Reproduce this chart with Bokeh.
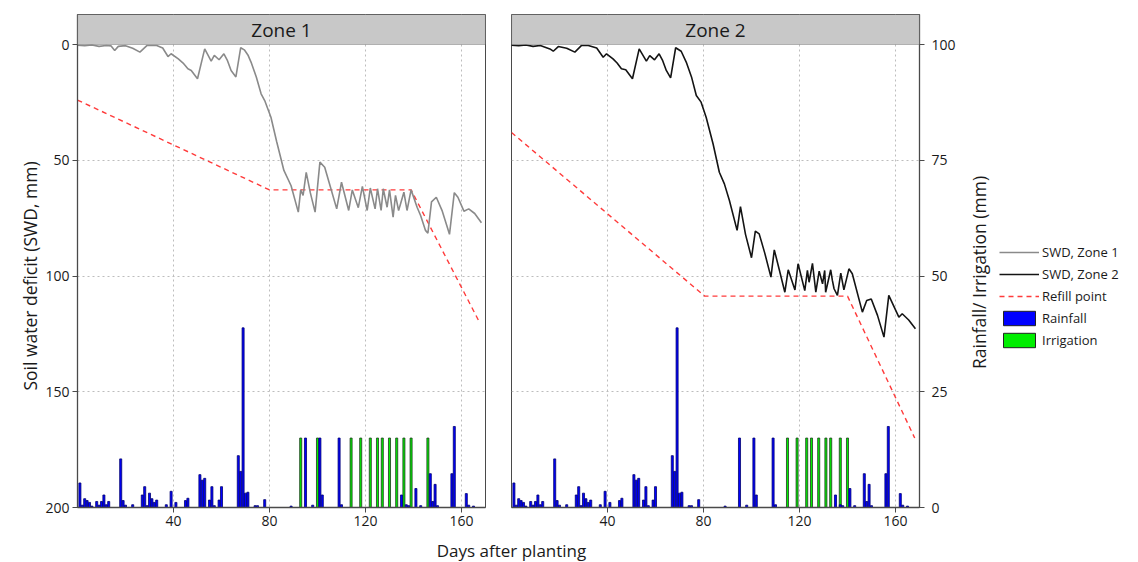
import math
from bokeh.plotting import figure
from bokeh.models import Range1d, LinearAxis, FixedTicker, BoxAnnotation, Label, Legend, LegendItem
from bokeh.layouts import column, row
from bokeh.embed import file_html
from bokeh.resources import INLINE

FONT = "Open Sans"

# ---------------- data ----------------
swd1_day = [0, 3, 6, 9, 12, 14, 15.5, 17, 20, 23, 26, 29, 33, 35.5, 37.7, 39, 42, 44, 46, 47.4,
            50, 53, 55.7, 57, 59, 61, 62.5, 64, 66, 68, 69.5, 71, 72.3, 74.5, 76.5, 78, 80.6, 83,
            86, 89, 92, 93, 94, 95.3, 97, 99, 101, 103, 105.5, 108, 110, 113, 114.5, 117, 118.7,
            120.7, 122, 124, 125, 126.5, 127.4, 129, 130, 131.5, 132.5, 133.8, 136, 137.3, 139,
            141.5, 143, 145, 146, 147.5, 149.5, 152, 155, 157, 158.5, 161, 163, 165.5, 168.3]
swd1_mm = [0.3, 0.5, 0.2, 0.8, 0.4, 0.6, 2.6, 0.8, 0.5, 1.6, 3.3, 0.4, 0.4, 1.5, 5.2, 4.0, 6.2, 8.0,
           10.5, 11.2, 14.8, 1.9, 7.2, 4.7, 6.6, 4.0, 7.0, 11.2, 14.0, 1.4, 2.3, 4.5, 7.6, 14.0,
           21.3, 24.2, 31.4, 42.0, 54.4, 61.0, 72.4, 62.8, 65.2, 55.2, 64.0, 72.4, 50.8, 53.0,
           62.0, 71.0, 59.5, 71.7, 62.8, 70.5, 61.3, 71.7, 62.0, 71.0, 62.3, 71.7, 62.3, 70.3,
           62.8, 74.6, 65.2, 71.7, 63.8, 71.7, 62.8, 70.3, 74.0, 80.3, 81.5, 68.0, 66.0, 72.0,
           82.0, 64.0, 66.0, 72.0, 71.0, 73.0, 77.0]

swd2_day = [0, 3, 6, 9, 12, 16, 17.4, 19.5, 23, 26.4, 29.2, 32, 35.5, 38.2, 39.6, 42.3, 44, 45.8,
            47.6, 50.4, 53.2, 56.2, 57.6, 59.6, 61.5, 63, 64.5, 66.3, 68.4, 70.7, 72.8, 75, 77, 79,
            81.1, 84, 86.6, 88.7, 90.8, 94, 95.4, 97.5, 100, 101.6, 103.2, 105.5, 108.1, 109.5,
            111.5, 113.9, 115.3, 118.1, 119.4, 122.2, 123.3, 124, 125.4, 126.8, 128.2, 129.6,
            130.5, 130.9, 133, 133.7, 134.4, 135.8, 137.2, 138.5, 140.6, 142, 146.2, 148, 149.9,
            152.5, 155.2, 157.2, 161.4, 162.8, 165.5, 168.3]
swd2_mm = [0.3, 0.5, 0.2, 0.8, 0.4, 1.9, 2.9, 0.9, 1.6, 3.3, 0.4, 0.4, 1.5, 5.5, 4.0, 6.2, 8.0, 10.5,
           10.9, 14.8, 1.9, 7.2, 4.8, 6.6, 4.0, 7.0, 11.2, 14.4, 1.4, 2.9, 7.6, 14.0, 22.0, 24.9,
           31.4, 43.0, 55.2, 60.2, 67.4, 80.3, 70.0, 82.0, 92.1, 80.6, 81.8, 90.0, 100.5, 88.7,
           97.0, 107.0, 97.3, 106.0, 94.7, 106.3, 97.6, 102.7, 94.5, 107.0, 97.9, 103.4, 97.6,
           107.0, 97.3, 101.9, 105.5, 108.4, 98.8, 106.0, 96.9, 99.0, 115.6, 110.6, 109.9, 117.0,
           126.4, 108.4, 117.8, 116.3, 119.0, 122.8]

refill1_day = [0, 80, 139, 167]
refill1_mm = [24.0, 62.8, 62.8, 119.0]
refill2_day = [0, 80.5, 140, 168]
refill2_mm = [38.0, 108.7, 108.7, 170.0]

rain_day = [1, 2, 3, 4, 5, 6, 8, 9, 10, 11, 12, 13, 18, 19, 20, 23, 27, 28, 29, 30, 31, 32, 33,
            37, 39, 41, 45, 46, 51, 52, 53, 55, 56, 57, 59, 60, 67, 68, 69, 70, 71, 74, 75, 78,
            89, 95, 98, 101, 102, 109, 110, 135, 137, 138, 141, 143, 147, 148, 149, 150, 156,
            157, 162, 163, 165]
rain_mm = [5.3, 0.5, 1.9, 1.5, 1.1, 0.3, 1.3, 0.5, 1.3, 2.7, 0.6, 1.3, 10.5, 1.5, 0.5, 0.6, 2.7,
           4.5, 0.4, 3.1, 1.9, 1.1, 1.6, 0.6, 3.5, 1.1, 1.5, 2.0, 7.1, 5.9, 6.3, 1.6, 4.5, 0.4,
           1.6, 4.5, 11.2, 7.8, 38.8, 3.1, 3.3, 0.4, 0.4, 1.7, 0.3, 15.0, 0.5, 15.0, 2.7, 15.0,
           0.6, 2.7, 0.6, 0.4, 4.1, 0.4, 7.3, 1.3, 5.0, 0.4, 7.3, 17.5, 3.0, 0.5, 0.3]

irr1_day = [93, 100, 114, 118, 122, 125, 127, 130, 133, 136, 139, 146]
irr1_mm = [15.0, 15.0, 15.0, 15.0, 15.0, 15.0, 15.0, 15.0, 15.0, 15.0, 15.0, 15.0]
irr2_day = [115, 119, 123, 125, 128, 131, 133, 137, 140]
irr2_mm = [15.0, 15.0, 15.0, 15.0, 15.0, 15.0, 15.0, 15.0, 15.0]

x_ticks = [40, 80, 120, 160]
swd_ticks = [0, 50, 100, 150, 200]
rain_ticks = [0, 25, 50, 75, 100]
panel_titles = ["Zone 1", "Zone 2"]
legend_labels = ["SWD, Zone 1", "SWD, Zone 2", "Refill point", "Rainfall", "Irrigation"]

X_LABEL = "Days after planting"
Y_LABEL = "Soil water deficit (SWD, mm)"
Y2_LABEL = "Rainfall/ Irrigation (mm)"

# ---------------- styling constants ----------------
Z1_COLOR = "#8a8a8a"
Z2_COLOR = "#141414"
REFILL_COLOR = "#ff3b3b"
RAIN_FILL = "#0000ff"
RAIN_LINE = "#000070"
IRR_FILL = "#00ee00"
IRR_LINE = "#1e3a1e"
AXIS_COLOR = "#4a4a4a"
GRID_COLOR = "#bdbdbd"
TEXT_COLOR = "#1a1a1a"

X_MAX = 170
SWD_TOP = -12.96            # header strip area above 0
RAIN_TOP = (200 - SWD_TOP) / 2.0
ROW_H = 537
FRAME_BOTTOM = 507          # frames in the row are aligned (top 14, bottom 507)


def style_axis(ax):
    ax.axis_line_color = AXIS_COLOR
    ax.axis_line_width = 1.3
    ax.major_tick_line_color = AXIS_COLOR
    ax.major_tick_out = 5
    ax.major_tick_in = 0
    ax.minor_tick_line_color = None
    ax.major_label_text_font = FONT
    ax.major_label_text_font_size = "14px"
    ax.major_label_text_color = TEXT_COLOR


def blank_fig(width, height):
    f = figure(width=width, height=height, x_range=Range1d(0, width), y_range=Range1d(0, height),
               toolbar_location=None, output_backend="svg", min_border=0,
               x_axis_location=None, y_axis_location=None, outline_line_color=None)
    f.grid.visible = False
    return f


def vertical_title(text, x, y_from_top):
    return Label(x=x, y=FRAME_BOTTOM - y_from_top, x_units="screen", y_units="screen", text=text,
                 angle=math.pi / 2, text_align="center", text_baseline="middle",
                 text_font=FONT, text_font_size="17.5px", text_color=TEXT_COLOR)


def make_panel(width, border_left, border_right, title, left_axis):
    p = figure(width=width, height=ROW_H, x_range=Range1d(0, X_MAX),
               y_range=Range1d(200, SWD_TOP), toolbar_location=None, output_backend="svg",
               min_border_left=border_left, min_border_right=border_right,
               min_border_top=14, min_border_bottom=30,
               y_axis_location="left" if left_axis else None)
    p.extra_y_ranges = {"rain": Range1d(0, RAIN_TOP)}
    p.outline_line_color = AXIS_COLOR
    p.outline_line_width = 1
    p.background_fill_color = "white"
    p.border_fill_color = "white"

    p.xaxis.ticker = FixedTicker(ticks=x_ticks)
    p.xgrid.ticker = FixedTicker(ticks=x_ticks)
    p.ygrid.ticker = FixedTicker(ticks=[50, 100, 150])
    for g in (p.xgrid, p.ygrid):
        g.grid_line_color = GRID_COLOR
        g.grid_line_dash = "2 3"
        g.grid_line_width = 1

    for ax in p.xaxis + p.yaxis:
        style_axis(ax)
    p.xaxis.major_label_standoff = 3

    # header strip
    p.add_layout(BoxAnnotation(left=0, right=X_MAX, top=SWD_TOP, bottom=0,
                               fill_color="#c8c8c8", fill_alpha=1,
                               line_color="#3a3a3a", line_width=1.2, level="overlay"))
    p.add_layout(Label(x=X_MAX / 2, y=SWD_TOP / 2, text=title, text_align="center",
                       text_baseline="middle", text_font=FONT, text_font_size="19px",
                       text_color=TEXT_COLOR, level="overlay"))
    return p


# ---------------- left axis title column ----------------
p0 = blank_fig(42, ROW_H)
p0.add_layout(vertical_title(Y_LABEL, 29, 275.5))

# ---------------- Zone 1 ----------------
p1 = make_panel(456, 34, 13, panel_titles[0], True)
p1.yaxis.ticker = FixedTicker(ticks=swd_ticks)
p1.yaxis.major_label_standoff = 3

p1.vbar(x=irr1_day, top=irr1_mm, bottom=0, width=0.85, y_range_name="rain",
        fill_color=IRR_FILL, line_color=IRR_LINE, line_width=0.8)
p1.vbar(x=rain_day, top=rain_mm, bottom=0, width=0.85, y_range_name="rain",
        fill_color=RAIN_FILL, line_color=RAIN_LINE, line_width=0.8)
p1.line(refill1_day, refill1_mm, line_color=REFILL_COLOR, line_width=1.4, line_dash="5 4")
p1.line(swd1_day, swd1_mm, line_color=Z1_COLOR, line_width=1.6)

# ---------------- Zone 2 ----------------
p2 = make_panel(465, 13, 44, panel_titles[1], False)
rax = LinearAxis(y_range_name="rain", ticker=FixedTicker(ticks=rain_ticks))
style_axis(rax)
rax.major_label_standoff = 7
p2.add_layout(rax, "right")

p2.vbar(x=irr2_day, top=irr2_mm, bottom=0, width=0.85, y_range_name="rain",
        fill_color=IRR_FILL, line_color=IRR_LINE, line_width=0.8)
p2.vbar(x=rain_day, top=rain_mm, bottom=0, width=0.85, y_range_name="rain",
        fill_color=RAIN_FILL, line_color=RAIN_LINE, line_width=0.8)
p2.line(refill2_day, refill2_mm, line_color=REFILL_COLOR, line_width=1.4, line_dash="5 4")
p2.line(swd2_day, swd2_mm, line_color=Z2_COLOR, line_width=1.6)

# ---------------- right axis title + legend ----------------
p4 = figure(width=175, height=ROW_H, toolbar_location=None, output_backend="svg", min_border=0,
            x_axis_location=None, y_axis_location=None, outline_line_color=None)
p4.grid.visible = False
p4.add_layout(vertical_title(Y2_LABEL, 15, 272))
k1 = p4.line(swd1_day, swd1_mm, line_color=Z1_COLOR, line_width=1.6, visible=False)
k2 = p4.line(swd2_day, swd2_mm, line_color=Z2_COLOR, line_width=1.6, visible=False)
k3 = p4.line(refill2_day, refill2_mm, line_color=REFILL_COLOR, line_width=1.4, line_dash="5 4",
             visible=False)
k4 = p4.vbar(x=rain_day, top=rain_mm, width=0.85, fill_color=RAIN_FILL, line_color="#222222",
             line_width=1, visible=False)
k5 = p4.vbar(x=irr2_day, top=irr2_mm, width=0.85, fill_color=IRR_FILL, line_color="#222222",
             line_width=1, visible=False)
legend = Legend(items=[LegendItem(label=lab, renderers=[r])
                       for lab, r in zip(legend_labels, [k1, k2, k3, k4, k5])],
                location=(36, 158), glyph_width=40, glyph_height=18, label_height=18, spacing=4,
                padding=4, margin=0, label_standoff=3, border_line_color=None,
                background_fill_alpha=0, inactive_fill_alpha=0,
                label_text_font=FONT, label_text_font_size="13px", label_text_color=TEXT_COLOR)
p4.add_layout(legend)

# ---------------- shared x label ----------------
p3 = blank_fig(1138, 25)
p3.add_layout(Label(x=511, y=12, text=X_LABEL, text_align="center", text_baseline="middle",
                    text_font=FONT, text_font_size="17px", text_color=TEXT_COLOR))

layout = column(row(p0, p1, p2, p4, spacing=0), p3, spacing=0)
open("out.html", "w").write(file_html(layout, INLINE))
